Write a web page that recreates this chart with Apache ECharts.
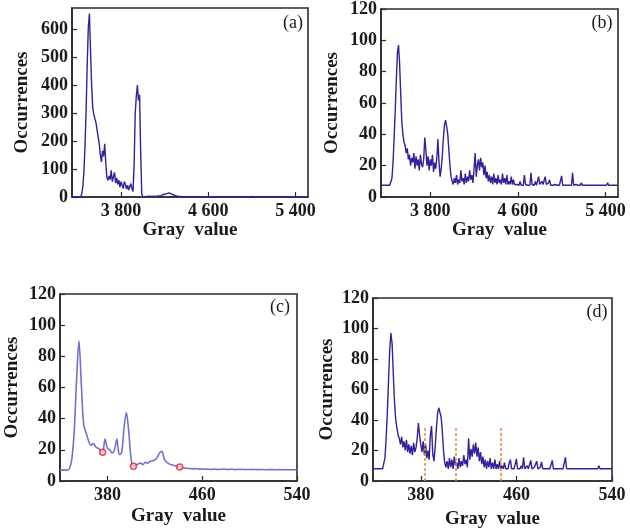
<!DOCTYPE html>
<html><head><meta charset="utf-8">
<script src="https://cdn.jsdelivr.net/npm/echarts@6/dist/echarts.min.js"></script>
<style>html,body{margin:0;padding:0;background:#fff}#c{width:630px;height:530px}</style>
</head><body><div id="c"></div>
<script>
// ---- Data ----
const startAB = 3350, stepAB = 10;   // gray value bins for panels (a),(b)
const occA = [
0,0,0,0,0,0,0,0,2,12,
40,95,190,320,480,610,655,520,400,320,
295,300,265,240,245,190,150,125,165,145,
190,120,70,60,75,62,95,55,62,88,
50,68,45,60,35,55,42,30,55,45,
28,42,25,20,48,30,20,120,300,360,
400,345,365,160,12,2,0,0,0,2,
4,3,5,2,4,3,6,2,5,4,
7,3,6,8,5,10,7,12,9,15,
18,11,14,8,10,5,7,3,5,2,
3,1,2,0,1,0,0,0,0,0,
0,0,2,0,0,0,0,0,0,0,
0,0,0,0,2,0,0,0,0,0,
0,0,0,0,0,1,0,0,0,0,
0,0,0,0,0,0,0,0,2,0,
0,0,0,0,0,0,0,0,0,0,
0,0,0,0,0,2,0,0,0,0,
0,0,0,0,0,0,0,0,0,0,
0,0,0,0,0,0,0,0,2,0,
0,0,0,0,0,0,0,0,0,0,
0,0,0,0,0,0,0,0,0,0,
0,0,0,0,0,0,0
];
const occB = [
7.5,7.5,7.5,7.5,7.5,7.5,7.5,7.5,7.5,7.5,
12,22,38,55,75,92,97,85,66,48,
40,35,33,28,31,24,27,20,25,22,
28,18,26,20,24,17,27,21,19,24,
38,30,20,26,17,24,20,27,16,22,
18,25,37,22,13,18,26,38,46,49,
45,40,30,20,13,10,8,12,9,14,
8,11,9,17,10,12,8,15,9,13,
10,17,11,14,9,18,28,13,20,24,
17,25,19,22,14,20,12,16,10,14,
9,13,8,15,9,12,8,14,9,11,
8,15,9,12,8,14,8,10,8,13,
8,11,8,9,8,8,7.5,10,7.5,8,
7.5,14,8,9,7.5,8,7.5,15.5,8,9,
7.5,10,7.5,8,13,8,7.5,10,8,7.5,
13,8,7.5,9,11,7.5,8,7.5,7.5,8,
7.5,7.5,8,7.5,7.5,13.5,7.5,8,7.5,7.5,
7.5,8,7.5,7.5,7.5,15.5,7.5,7.5,8,7.5,
7.5,7.5,7.5,9,7.5,7.5,7.5,7.5,7.5,7.5,
7.5,7.5,7.5,7.5,7.5,7.5,7.5,7.5,7.5,7.5,
7.5,7.5,7.5,7.5,7.5,7.5,7.5,9,7.5,7.5,
7.5,7.5,7.5,7.5,7.5,7.5,7.5
];
const startCD = 340, stepC = 2, stepD = 1; // gray value bins for panels (c),(d)
const occC = [
7,7,7,7,8,14,32,65,90,62,
36,31,26,23,24,22,21,20,18.5,27,
21,20,18,20,27,17,18,34,44,32,
14,9.5,10,11,11.5,10.5,12,11.5,12.5,13,
13.5,15,18,19,14,12,11,10.5,10,9.5,
9,8.7,8.5,8.3,8,8,7.8,8,7.8,7.6,
7.8,7.5,7.6,7.5,7.4,7.6,7.5,7.4,7.5,7.6,
7.5,7.4,7.5,7.5,7.3,7.5,7.4,7.5,7.3,7.4,
7.4,7.3,7.4,7.3,7.3,7.4,7.3,7.2,7.3,7.3,
7.3,7.2,7.3,7.2,7.3,7.2,7.2,7.3,7.2,7.2,
7.2
];
const occD = [
8,8,8,8,8,8,8,8,8,9,
15,28,45,66,86,97,90,70,52,40,
35,30,28,24,29,22,26,20,27,19,
24,18,23,17,25,19,22,28,38,30,
24,19,26,17,24,15,20,14,30,36,
18,13,22,34,44,48,49,42,33,20,
12,9,13,8,15,9,14,8,16,10,
12,8,15,9,13,10,17,11,14,9,
28,14,21,16,24,18,25,16,22,13,
19,11,16,9,14,8,13,9,15,8,
12,8,14,8,11,8,13,8,10,8,
12,8,9,8,12,14,8,9,8,11,
14.5,8,9,8,10,8,15.5,8,8,10,
8,8,13.5,8,8,9,8,13,8,8,
9,12.5,8,8,8,9,8,8,8,8,
13.5,8,8,8,8,8,8,8,8,8,
8,15.5,8,8,8,8,8,8,8,8,
8,8,8,8,8,8,8,8,8,8,
8,8,8,8,8,8,8,8,8,10,
8,8,8,8,8,8,8,8,8,8,
8
];
const ticksXAB = [3800, 4600, 5400];
const ticksXCD = [380, 460, 540];
const ticksYA = [0, 100, 200, 300, 400, 500, 600];
const ticksY = [0, 20, 40, 60, 80, 100, 120];
const markGrayC = [376, 402, 441];
const markOccC = [18.5, 9.5, 9];
const cutGrayD = [383.5, 409.5, 446.5];
const cutTopD = 35;
const panelLabels = ['(a)', '(b)', '(c)', '(d)'];
const xName = 'Gray  value', yName = 'Occurrences';

// ---- Build ----
const toPairs = (arr, start, step) => arr.map((v, i) => [start + i * step, v]);
const FONT = '"Liberation Serif","Times New Roman",serif';
const fmtX = v => String(v).replace(/(\d)(\d{3})$/, '$1 $2');

const grids = [
  {left: 72, top: 8, width: 236, height: 189},
  {left: 381, top: 8, width: 237, height: 189},
  {left: 60, top: 294, width: 237, height: 187},
  {left: 373, top: 298, width: 239, height: 187}
].map(g => Object.assign({show: true, borderColor: '#2b2b2b', borderWidth: 1.6, backgroundColor: 'transparent'}, g));

function xAxis(gi, min, max, ticks, nameGap) {
  return {
    type: 'value', gridIndex: gi, min, max,
    name: xName, nameLocation: 'middle', nameGap,
    nameTextStyle: {fontFamily: FONT, fontSize: 19, fontWeight: 'bold', color: '#1a1a1a'},
    axisLine: {show: true, lineStyle: {color: '#2b2b2b', width: 1.6}},
    axisTick: {show: true, inside: true, length: 5, customValues: ticks, lineStyle: {color: '#2b2b2b', width: 1.2}},
    axisLabel: {customValues: ticks, formatter: fmtX, margin: 5, fontFamily: FONT, fontSize: 18, fontWeight: 'bold', color: '#1a1a1a'},
    splitLine: {show: false}
  };
}
function yAxis(gi, max, ticks, nameGap) {
  return {
    type: 'value', gridIndex: gi, min: 0, max,
    name: yName, nameLocation: 'middle', nameGap, nameRotate: 90,
    nameTextStyle: {fontFamily: FONT, fontSize: 19, fontWeight: 'bold', color: '#1a1a1a'},
    axisLine: {show: true, lineStyle: {color: '#2b2b2b', width: 1.6}},
    axisTick: {show: true, inside: true, length: 5, customValues: ticks, lineStyle: {color: '#2b2b2b', width: 1.2}},
    axisLabel: {customValues: ticks, margin: 4, fontFamily: FONT, fontSize: 18, fontWeight: 'bold', color: '#1a1a1a'},
    splitLine: {show: false}
  };
}

const lineDark = '#33209a';
const series = [
  {type: 'line', xAxisIndex: 0, yAxisIndex: 0, data: toPairs(occA, startAB, stepAB), showSymbol: false, sampling: null,
   lineStyle: {color: lineDark, width: 1.4}, silent: true, animation: false},
  {type: 'line', xAxisIndex: 1, yAxisIndex: 1, data: toPairs(occB, startAB, stepAB), showSymbol: false,
   lineStyle: {color: lineDark, width: 1.4}, silent: true, animation: false},
  {type: 'line', xAxisIndex: 2, yAxisIndex: 2, data: toPairs(occC, startCD, stepC), showSymbol: false, smooth: 0.3,
   lineStyle: {color: '#6f72cc', width: 1.6}, silent: true, animation: false},
  {type: 'scatter', xAxisIndex: 2, yAxisIndex: 2, data: markGrayC.map((g, i) => [g, markOccC[i]]),
   symbol: 'circle', symbolSize: 6, itemStyle: {color: '#ffd6d6', borderColor: '#e5202e', borderWidth: 1.5}, animation: false, z: 5},
  {type: 'line', xAxisIndex: 3, yAxisIndex: 3, data: toPairs(occD, startCD, stepD), showSymbol: false,
   lineStyle: {color: lineDark, width: 1.4}, silent: true, animation: false,
   markLine: {silent: true, symbol: 'none', animation: false, label: {show: false},
     lineStyle: {color: '#f0843a', type: [3, 2], width: 1.5},
     data: cutGrayD.map(g => [{coord: [g, 0]}, {coord: [g, cutTopD]}])}}
];

const labelPos = [[293, 23], [602, 23], [280, 307], [597, 312]];
const graphic = panelLabels.map((t, i) => ({
  type: 'text', x: labelPos[i][0], y: labelPos[i][1],
  style: {text: t, font: '18px ' + FONT, fill: '#1a1a1a', align: 'center', verticalAlign: 'middle'}
}));

const chart = echarts.init(document.getElementById('c'), null, {renderer: 'canvas'});
chart.setOption({
  animation: false,
  grid: grids,
  xAxis: [
    xAxis(0, 3350, 5515, ticksXAB, 18),
    xAxis(1, 3350, 5515, ticksXAB, 18),
    xAxis(2, 340, 540, ticksXCD, 26),
    xAxis(3, 340, 540, ticksXCD, 29)
  ],
  yAxis: [
    yAxis(0, 675, ticksYA, 40),
    yAxis(1, 120, ticksY, 39),
    yAxis(2, 120, ticksY, 38),
    yAxis(3, 120, ticksY, 36)
  ],
  series,
  graphic
});
</script>
</body></html>
